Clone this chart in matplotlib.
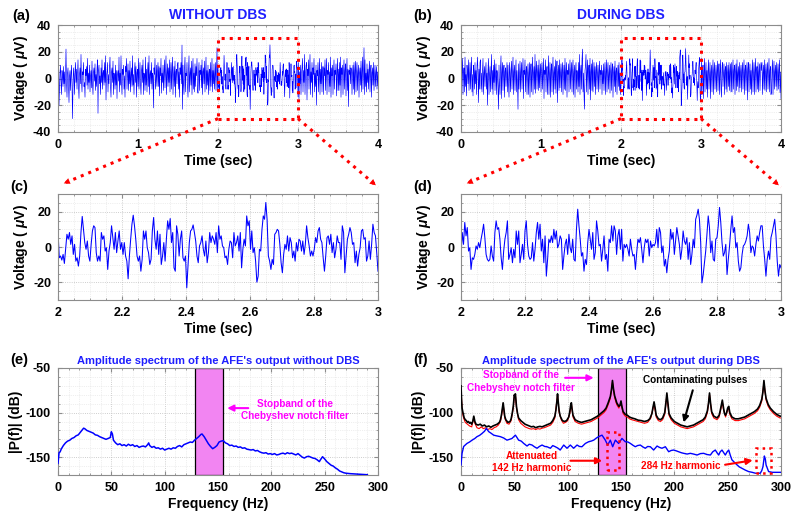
import numpy as np
import matplotlib
matplotlib.use('Agg')
import matplotlib.pyplot as plt
from matplotlib.ticker import MultipleLocator
from matplotlib.lines import Line2D
from matplotlib.patches import FancyArrowPatch, Rectangle

plt.rcParams['font.family'] = ['Liberation Sans', 'DejaVu Sans']
plt.rcParams['font.weight'] = 'bold'
plt.rcParams['axes.unicode_minus'] = False
plt.rcParams['mathtext.fontset'] = 'custom'
plt.rcParams['mathtext.it'] = 'Liberation Sans:italic'
plt.rcParams['mathtext.rm'] = 'Liberation Sans:bold'

# ---------------- DATA ----------------
# (a) without DBS, 0-2 s and 3-4 s (2-3 s is the zoomed segment c_vals)
a_left = [5, 25, -20, -8, 4, 10, -3, -12, 6, 2, -6, 9, -4, 5, -10, 3, 22, -2, -14, 4,
          8, -5, -18, 2, 6, -9, 3, 10, -4, -30, -6, 8, 2, -12, 5, 12, -3, 7, -8, 4,
          14, -6, -15, 3, 8, -4, 18, -2, -10, 5, 3, 12, -6, -3, -14, 7, 2, 9, -5, 15,
          -8, 4, -3, 10, -10, 2, 6, -7, 13, -4, -12, 5, 8, -2, 11, -9, 3, -6, 7, 14,
          -26, 6, 10, -4, 2, -12, 8, -3, 14, -8, 4, 6, -5, 12, -3, 17, -16, 2, 5, 12,
          -10, 3, -4, 9, 16, -6, -14, 5, 8, -3, 13, -12, 4, 2, -8, 10, -5, 6, -15, 3,
          6, -2, 16, -10, 4, -5, 17, -3, -12, 7, 3, 10, -8, 2, -14, 9, 5, 15, -8, 4,
          11, -9, 6, -4, 13, -10, 2, 8, -6, 17, -5, 3, -12, 6, 12, -3, 9, -14, 4, 7,
          -6, 15, -8, 3, 12, -4, -12, 6, 10, -3, 14, -12, 4, 2, -9, 16, -5, 7, -10, 5,
          12, -6, 17, -12, 3, 6, -4, 12, -8, 4, 2, -22, 8, 3, 15, -8, -2, 10, -6, 5,
          12, -6, 9, -13, 8, 2, 15, -11, 4, -3, 10, -9, 4, 14, -7, 5, 17, -12, 3, 11,
          -6, 8, -3, 14, -10, 4, 12, -8, 6, 16, -12, 2, 9, -6, 13, -14, 5, 7, -4, 10,
          12, -8, 5, -14, 8, 3, 12, -4, 25, -23, 10, -4, -12, 8, 16, -10, 4, 2, 12, -6,
          -14, 6, 17, -10, 3, 8, -5, 13, -12, 5, 15, -8, 4, -10, 11, -6, 9, 2, 15, -8,
          -11, 4, 12, -9, 6, 3, 10, -7, 14, -12, 5, 8, -4, 13, -10, 3, 16, -8, 6, -5,
          10, -12, 4, 7, -9, 12, -6, 3, 15, -10, 6, -4, 11, -8, 2, 12, -9, 5, 23, -10]
a_right = [12, -15, 5, -4, 10, -12, 4, 8, 15, -10, 6, -3, 18, -12, 3, 9, 12, -16, 7, 2,
           14, -8, 4, 18, -12, 5, -3, 12, -14, 8, 3, 15, -10, 4, -6, 10, -20, 6, 2, 12,
           -10, 3, 15, -12, 7, -4, 12, -10, 4, 9, -12, 8, 2, 14, -9, 5, 15, -12, 6, 3,
           12, -10, 5, -6, 16, -14, 8, 2, 10, -12, 5, 14, -8, 6, 3, 11, -13, 4, 15, -9,
           7, -9, 12, -5, 16, -14, 8, 3, 10, -12, 5, 14, -8, 6, 11, -13, 4, 15, -9, 7,
           -21, 6, 3, 10, -4, 8, 6, -12, 4, 10, -8, 12, -12, 6, 13, -10, 5, 12, -9, 4,
           10, -14, 4, 8, -5, 13, -10, 5, 16, -8, 3, 23, -12, 14, -6, 4, -10, 11, -3, 7,
           -8, 6, 13, -10, 5, 10, -14, 4, 8, -5, 12, -9, 3, 10, -6, 4, 9, -8, 5, -5]
# (c) zoomed 2-3 s without DBS
c_vals = [9.1, -6.1, -5.1, -7.4, -4.2, -9.3, -1.3, 7.2, 4.4, 8.2, 1.5, 6.3, -4.2, 1.5, -8, -6.1,
          -10.8, -5.1, 8.2, 17.3, 10, 2.5, -1.3, 3.4, -5.1, -8, 1.5, 9.1, 12, 11, -3.2, -8,
          -5.1, -8, 8.2, 4.4, 6.3, -2.3, -0.4, -12.7, -2.3, 2.5, 12, 5.3, -1.3, 8.2, -3.2, 3.4,
          9.1, -1.3, 2.5, -4.2, 2.5, -5.1, -8, -18, -5.1, 4.4, 12.9, 18, 12, 4.4, -5.1, -8,
          -5.1, -13.7, -7, 9.1, 4.4, 9.1, -0.4, -3.2, -9.9, -7, 9.1, 16.7, 4.4, -1.3, 9.1, -4.2,
          7.2, -9.9, -5.1, 2.5, -8, 4.4, 14.8, 10, 16.1, 2.5, 8.2, -11.8, -13.7, 12, 7.2, -5.1,
          4.4, 9.1, -6.1, -8, -5.1, -23.1, -10.8, 2.5, 9.1, 10, 12.5, 8.2, 3.4, -5.1, -8.9, 0.6,
          2.5, 6.3, -1.3, -5.1, 3.4, -8.9, -3.2, 8.2, 2.5, 6.3,
          4.4, 1.5, 8.2, -3.2, 12, 4.4, 6.3, 0.6, -0.4, -6.1, -5.1, -9.9, -1.3, 3.4, 2.5, -6.1,
          8.2, 0.6, 2.5, 6.3, -2.3, 8.2, -11.8, -1.3, 4.4, 0.6, 17.6, 12, 14.8, -1.3, 9.1, -3.2,
          -0.4, -8, -19.9, -16.5, -1.3, -2.3, 10, 17.6, 15.7, 25.2, 15.7, -5.1, -8, -12.7, -7, -9.9,
          7.2, 8.2, 10, 9.1, 1.5, -8.9, -14.6, -4.2, 1.5, -1.3, 6.3, -2.3, 5.3, 2.5, -6.1, -2.3,
          -8, 2.5, -2.3, 4.4, 3.4, -2.3, 3.4, -4.2, 1.5, 12, 5.3, 0.6, -5.1, -2.3, -5.1, -1.3,
          5.3, 2.5, 9.1, 11, 4.4, 2.5, -6.1, -13.7, -5.1, 5.3, 6.3, 1.5, 7.2, -3.2, 2.5, -6.1,
          -1.3, 6.3, 2.5, 2.5, -7, 12, 8.2, -14.6, -5.1, 4.4, 7.2, 11, 8.2, 1.5, 2.5, -8.9,
          -2.3, -10.8, -4.2, -0.4, 9.1, 10, 4.4, 5.3, -8, -5.1, 3.4, -7, 1.5, 12.9, 8.2, 6.3,
          -3.2, -13.7]
# (b) during DBS, 0-2 s and 3-4 s
b_left = [10, -15, 6, 15, -12, 4, 8, -10, 16, -6, 3, -13, 10, 5, -4, 14, -9, 2, 12, -8,
          6, 16, -10, 3, -13, 10, 5, -8, 12, -4, 6, -12, 9, 16, 4, -18, 7, -8, 12, 14,
          -8, 4, -10, 6, 15, -12, 3, 9, -6, 5, 12, -8, 4, -20, 6, 15, -12, 3, 9, -10,
          5, 18, -8, 6, -12, 10, -3, 14, -9, 4, 11, -12, 6, 2, -8, -23, 10, -5, -12, 8,
          17, -15, 4, 12, -9, 6, 10, -14, 5, 8, -6, 3, 12, -10, 10, -4, -14, 12, 4, -10,
          6, 13, -8, 4, 16, -12, 5, 10, -9, 3, 14, -10, 6, -4, -23, 11, -8, 2, 13, -10,
          5, 12, -8, 4, 15, -15, 6, 3, 14, -10, 5, 9, -12, 4, 11, -12, 3, 12, -14, 6,
          11, -10, 5, 16, -12, 4, 9, -8, 18, -11, 6, 13, -8, 5, 10, -9, 14, -7, 4, 11,
          -10, 6, 12, -8, 4, 15, -15, 6, 3, 14, -10, 5, 9, -12, 4, 17, -12, 3, 12, -14,
          6, 11, -10, 5, 16, -12, 4, 9, -8, 14, -11, 6, 13, -18, 5, 10, -9, 14, -7, 4,
          11, -10, 6, 12, -12, 4, 10, -8, 15, -9, 5, 12, -14, 6, 3, 11, -10, 4, 14, -8,
          5, 12, -10, 6, 14, -12, 4, 10, -14, 5, 12, -8, 6, 3, -10, 12, -6, 18, -12, 5,
          10, -8, 14, 22, -10, 4, -12, -23, 6, 10, 18, -10, 4, 14, -12, 6, 10, -8, 15, -16,
          5, 11, -9, 14, -10, 3, 12, -6, 9, -12, 6, 12, -8, 4, 10, -10, 5, 13, -8, 6,
          3, 10, -12, 6, -4, 11, -9, 5, 12, -12, 4, 14, -10, 6, 12, -8, 3, 10, -11, 5,
          12, -9, 6, 11, -14, 4, 9, -6, 13, -10, 5, 8, -12, 3, 10, -6, 12, -9, 4, -12]
b_right = [15, -12, 6, 10, -15, 5, 15, -10, 4, 12, -8, 6, -14, 6, 14, -8, 3, 12, -15, 5,
           10, -10, 4, 14, -12, 6, 12, -8, 3, 10, -10, 5, 13, -9, 6, 11, -12, 4, 14, -8,
           -14, 8, 12, -6, 4, 11, -12, 6, 9, -8, 12, -10, 4, 10, -6, 12, -9, 5, 11, -10,
           12, -10, 4, 14, -8, 6, 10, -12, 5, 11, -9, 14, -6, 4, 9, -10, 12, -7, 5, 10,
           -10, 6, 12, -8, 4, 14, -12, 6, 10, -9, 5, 12, -16, 7, 12, -10, 5, 11, -8, 6,
           -12, 6, 14, -10, 4, 12, -12, 5, 15, -10, 6, 9, -8, 12, -10, 5, 11, -9, 6, 12,
           6, 12, -12, 4, 10, -8, 14, -9, 5, 11, -10, 6, 12, -8, 4, 15, -10, 6, 9, -12,
           -10, 6, 14, -12, 4, 13, -8, 5, 10, -6, 12, -9, 4, 11, -8, 6, 14, -10, 5, -15]
# (d) zoomed 2-3 s during DBS
d_vals = [-5.1, 8.2, 1.5, 13.9, 6.3, 11, -2.3, -0.4, -12.7, -6.1, -7, -4.2, 0.6, -1.3, 2.5, -0.4,
          4.4, 8.2, 12.9, 5.3, -4.2, -7, -8, -7, 0.6, -5.1, -8, 8.2, 14.8, 10, 11, 4.4,
          -6.1, -12.7, -2.3, 4.4, 8.2, 14.8, -7, -4.2, -0.4, -8.9, -1.3, -6.1, 9.1, 1.5, 9.1, -8.9,
          -4.2, 1.5, -7, 9.1, 14.8, 1.5, -5.1, -7, -6.1, 2.5, -8, -1.3, 8.2, 13.9, 4.4, 12.9,
          -2.3, 4.4, -8.9, 6.3, -16.5, -7, 4.4, 2.5, 6.3, 2.5, 10, 4.4, 9.1, -0.4, 1.5, 6.3,
          4.4, -12.7, -5.1, 1.5, 4.4, -4.2, 7.2, -0.4, -3.2, 4.4, -7, -8, 10, 21.4, 12, 4.4,
          -5.1, -3.2, -13.7, -7, -9.9, 2.5, 10, 4.4, -1.3, 8.2, -7, -3.2, 14.8, 9.1, 0.6, 1.5,
          -8, -1.3, 6.3, -7, -4.2, -13.7, 4.4, 2.5, 12, 3.4, 12, 9.1, -4.2, 6.3, 10, -1.3,
          10, -8, 1.5, -0.4, 1.5, -1.3, -5.1, 4.4, -1.3, -5.1, -4.2, -12.7, -3.2, 4.4, 2.5, 5.3,
          -1.3, -8.9, -0.4, 4.4, 2.5, 4.4, -5.1, 3.4, -0.4, 1.5, 0.6, 2.5, 10, -0.4, 11, 8.2,
          -3.2, 0.6, -10.8, -7, -14.6, -7, -2.3, 10, 4.4, 8.2, -4.2, 3.4, 11, 6.3, 1.5, -7,
          -1.3, 9.1, 3.4, 1.5, 5.3, -7, 2.5, -9.9, -4.2, 4.4, -0.4, 15.7, 18, 21.4, 15.7, 2.5,
          -20.3, -15.6, -8.9, -2.3, 7.2, 17.6, 11, -3.2, 3.4, -7, -8, 4.4, 5.3, 12, 22.4, 13.9,
          2.5, -5.1, -3.2, 1.5, -15.6, -7, 0.6, 10, 17.6, 8.2, 11, -0.4, 2.5, -8, -13.7, -11.8,
          -4.2, 0.6, 1.5, 3.4, 6.3, 12.9, 8.2, -3.2, 0.6, -0.4, -5.1, 1.5, 6.3, 3.4, 8.2, 12,
          12, 0.6, -7, -16.5, -7, -2.3, -7, 5.3, 8.2, 12, 15.7, 6.3, -8, -16.5, -9.9, -11.8]

# (e) amplitude spectrum without DBS
e_freq = [0, 1, 2, 3, 5, 7, 9, 11, 13, 15, 17, 19, 21, 23, 24, 25, 27, 29, 31, 33,
          35, 37, 39, 41, 43, 45, 47, 49, 50, 51, 52, 54, 56, 58, 60, 62, 64, 66, 68, 70,
          72, 74, 76, 78, 80, 82, 84, 85, 86, 88, 90, 92, 94, 96, 98, 100, 102, 104, 106, 108,
          110, 112, 114, 116, 118, 120, 122, 124, 126, 128, 130, 132, 134, 135, 137, 139, 141, 143, 145, 147,
          149, 151, 153, 155, 157, 159, 161, 163, 165, 167, 169, 171, 173, 175, 177, 179, 181, 183, 185, 187,
          189, 191, 193, 195, 197, 199, 201, 203, 205, 207, 209, 211, 213, 215, 217, 219, 221, 223, 225, 227,
          229, 231, 233, 235, 237, 239, 241, 243, 245, 246, 248, 250, 252, 254, 256, 258, 260, 262, 264, 266,
          268, 270, 274, 278, 282, 286, 290]
e_db = [-157, -145, -144, -141, -137, -134, -132, -131, -129, -128, -126, -125, -122, -119, -117.5, -118, -120, -121, -122, -123,
        -125, -125.5, -127, -128, -129, -130, -129, -128, -121.5, -124, -131, -134, -136, -135, -137, -136, -137.5, -135.5, -137, -136,
        -138, -137, -139, -138, -137.5, -138.5, -136, -134, -137, -139, -138, -140, -139.5, -141, -140, -142, -141, -140, -141, -139.5,
        -140, -138, -137, -138.5, -136, -135, -134, -133, -133.5, -131, -129, -127, -124.5, -124, -127, -131, -135, -138, -140.5, -139,
        -137, -133, -132, -131.5, -134, -135, -137, -136.5, -138, -137.5, -139, -138.5, -140, -139.5, -141, -141.5, -142, -141.5, -143, -142.5,
        -144, -145, -145.5, -145, -146.5, -146, -147, -146, -147.5, -147, -146, -145.5, -146.5, -145, -146, -145.5, -146.5, -147.5, -146, -148,
        -150, -151, -149.5, -149, -150, -151, -151.5, -153, -155, -153, -149.5, -152, -155, -157, -159, -160, -162, -163.5, -165.5, -166.5,
        -167.5, -168, -168.5, -168.8, -169, -169.3, -169.7]

# (f) amplitude spectra during DBS: contaminated (black), reference (red), AFE output (blue)
f_freq = [0, 0.5, 1, 2, 3, 4, 5, 6, 7, 8, 9, 10, 11, 12, 13, 14, 16, 18, 20, 22,
          24, 26, 28, 30, 32, 34, 36, 37, 38, 39, 39.5, 40, 41, 42, 44, 46, 47, 48, 49, 50,
          50.5, 51, 52, 53, 54, 56, 58, 60, 62, 64, 66, 68, 70, 72, 74, 76, 78, 80, 82, 84,
          86, 88, 89, 90, 90.5, 91, 92, 93, 95, 97, 99, 101, 102, 103, 103.5, 104, 105, 107, 110, 113,
          116, 119, 122, 125, 128, 131, 134, 136, 138, 140, 141, 142, 143, 144, 146, 148, 149, 150, 151, 152,
          154, 156, 158, 160, 163, 166, 169, 172, 175, 177, 179, 180, 181, 182, 183, 185, 187, 189, 191, 192,
          193, 194, 195, 197, 200, 203, 206, 209, 212, 215, 218, 221, 224, 227, 229, 231, 232, 233, 234, 235,
          237, 240, 242, 243, 244, 245, 246, 247, 248, 249, 250, 251, 252, 254, 257, 260, 263, 266, 269, 272,
          275, 278, 280, 282, 283, 284, 285, 286, 288, 290, 293, 296, 299, 300]
f_black = [-70, -85, -95, -101, -106, -108, -109, -111, -110, -112, -111, -113, -110, -104, -110, -113, -114, -113, -115, -114,
           -116, -115, -116.5, -115, -114, -113, -111, -108, -102, -93, -89, -94, -104, -108, -111, -110, -107, -101, -93, -80,
           -82, -79, -93, -101, -106, -109, -111, -113, -114, -115, -116, -115.5, -117, -116, -115.5, -116, -115, -114, -113, -112,
           -109, -104, -97, -86, -79, -86, -98, -104, -109, -110, -109, -105, -99, -90, -89, -95, -103, -108, -110, -111,
           -110, -109, -108, -106, -104, -101, -98, -95, -89, -82, -75, -64, -74, -81, -89, -93, -92, -87, -94, -99,
           -102, -103, -105, -106, -107, -108.5, -109, -110, -109, -107, -101, -94, -88, -95, -103, -107, -108, -106, -100, -90,
           -78, -90, -101, -106, -110, -112, -114, -115, -116, -115, -114, -112, -110, -108, -105, -98, -90, -78, -90, -99,
           -104, -106, -103, -98, -92, -86, -94, -101, -103, -100, -95, -93, -100, -105, -107, -107, -106, -105, -103, -101,
           -99, -96, -92, -85, -77, -64, -76, -84, -91, -95, -99, -102, -104, -104]
r_freq = [0, 1, 2, 3, 4, 6, 8, 10, 12, 13, 15, 17, 19, 21, 23, 25, 27, 29, 31, 33,
          35, 37, 38, 39.5, 41, 43, 45, 47, 49, 50, 50.5, 51, 52, 54, 56, 58, 60, 62, 64, 66,
          68, 70, 72, 74, 76, 78, 80, 82, 84, 86, 88, 90.5, 92, 94, 96, 98, 100, 102, 103.5, 105,
          107, 110, 113, 116, 119, 122, 125, 128, 131, 134, 136, 138, 140, 142, 144, 146, 148, 150, 152, 154,
          156, 158, 160, 163, 166, 169, 172, 175, 178, 181, 183, 185, 187, 189, 191, 193, 195, 197, 200, 203,
          206, 209, 212, 215, 218, 221, 224, 227, 229, 231, 233, 235, 237, 240, 242, 244, 245, 246, 248, 250,
          251, 252, 254, 257, 260, 263, 266, 269, 272, 275, 278, 280, 282, 284, 286, 288, 290, 293, 296, 299, 300]
r_db = [-72, -97, -104, -108, -111, -113, -115, -116, -106, -112, -117, -118, -116, -118, -117, -119, -118, -119, -117, -116,
        -114, -110, -104, -90, -106, -112, -113, -109, -95, -81, -83, -80, -95, -108, -112, -114, -116, -117, -118, -118.5,
        -118, -119, -118, -118.5, -117.5, -117, -116, -115, -114, -111, -106, -80, -100, -108, -112, -111, -109, -101, -90, -105,
        -110, -112, -113, -112, -111, -110, -108, -106, -103, -100, -97, -91, -84, -66, -83, -91, -95, -89, -101, -104,
        -105, -107, -108, -109, -110, -111, -112, -111, -106, -90, -105, -109, -110, -108, -102, -80, -103, -108, -112, -114,
        -116, -117, -118, -117, -116, -114, -112, -110, -107, -100, -80, -101, -106, -108, -105, -94, -88, -96, -105, -97,
        -95, -102, -107, -109, -109, -108, -107, -105, -103, -101, -98, -94, -87, -66, -86, -93, -97, -101, -104, -106, -106]
fb_freq = [0, 1, 2.5, 5.6, 8, 10.3, 13, 15, 17.5, 19.7, 22, 23.8, 26, 28, 30.6, 33, 36.9, 40, 43.1, 45.5,
           47.8, 49.5, 51, 52.5, 54, 56.5, 58.8, 61.9, 64, 66.6, 69, 71.3, 73.5, 76, 78.5, 80.6, 83.8, 86, 88.4, 91,
           93, 96.3, 99.4, 102.5, 105.6, 108.8, 111, 113.4, 116.6, 119.7, 122, 124.4, 127, 129, 132.2, 135.3, 137.5, 140, 142.2, 144.7,
           147.8, 150.9, 154, 156.5, 158.8, 161, 163.4, 165.5, 168.1, 170.5, 172.8, 175, 177.5, 180.6, 183.8, 186, 188.4, 191.6, 194.7, 197,
           199.4, 202, 204, 206.5, 208.8, 212, 215, 218, 221.3, 224.5, 227.5, 230.5, 233.8, 236, 238.4, 240, 241.6, 243, 244.7, 246.3,
           247.8, 249.5, 251, 252.5, 254, 256.5, 258.8, 261, 263.4, 266.5, 269.7, 273, 276, 278, 280.6, 282, 283.1, 284.4, 285.3, 286,
           288.4, 292, 296, 300]
fb_db = [-158.7, -145.7, -138, -134.6, -133, -131, -129, -127, -125.5, -123.4, -121, -117.8, -121.4, -123, -125.3, -126, -127, -128.5, -130.9, -130,
         -129, -127, -125.3, -128, -130.9, -132, -134.6, -137.5, -135.5, -136.4, -138.5, -140, -138, -136.4, -138, -138.3, -140, -137, -138.3, -140,
         -142, -136.4, -140, -136.4, -140, -136.4, -138, -138.3, -134.6, -132.7, -132, -130.9, -128.5, -127, -125.3, -130.9, -136.4, -130.9, -138.3, -130.9,
         -134.6, -129, -132.7, -133, -134.6, -136.5, -138.3, -137, -136.4, -138.5, -140, -138, -138.3, -142, -137.5, -139, -140, -138.3, -143.9, -142.5,
         -142, -143, -143.9, -145, -145.7, -146.5, -145.7, -146.5, -147.6, -146, -145.7, -147, -147.6, -144, -142, -145, -147.6, -144, -142, -145,
         -147.6, -144, -142, -148, -153, -156, -158.7, -161, -162.5, -164.5, -166.2, -167, -168, -168, -168, -165, -160.6, -148.7, -152, -158.7,
         -166.2, -167, -167, -167]

stopband = (128, 155)
# ---------------------------------------

fig = plt.figure(figsize=(8, 5.25), dpi=100)
W, H = 800.0, 525.0
BLUE = '#0000ff'
TITLE_BLUE = '#1f1fff'
RED = '#ff0000'
MAG = '#ff00ff'


def add_ax(l, t, r, b):
    return fig.add_axes([l / W, 1 - b / H, (r - l) / W, (b - t) / H])


def style(ax, xmaj, xmin, ymaj, ymin):
    ax.xaxis.set_major_locator(MultipleLocator(xmaj))
    ax.xaxis.set_minor_locator(MultipleLocator(xmin))
    ax.yaxis.set_major_locator(MultipleLocator(ymaj))
    ax.yaxis.set_minor_locator(MultipleLocator(ymin))
    ax.grid(True, which='major', linestyle=':', color='#bdbdbd', linewidth=0.6)
    ax.grid(True, which='minor', linestyle=':', color='#e0e0e0', linewidth=0.5)
    ax.set_axisbelow(True)
    for s in ax.spines.values():
        s.set_color('#8c8c8c')
        s.set_linewidth(0.8)
    ax.tick_params(which='both', direction='in', colors='#8c8c8c', labelcolor='black',
                   labelsize=9, top=True, right=True, pad=5)
    ax.tick_params(which='major', length=3)
    ax.tick_params(which='minor', length=1.5)
    for lab in ax.get_xticklabels() + ax.get_yticklabels():
        lab.set_fontweight('bold')


VLAB = r'Voltage ( $\mu$V)'

# ---- (a) and (b) full traces ----
axes_top = []
for (l, r, left, mid, right, title) in [(58, 378, a_left, c_vals, a_right, 'WITHOUT DBS'),
                                         (461, 781, b_left, d_vals, b_right, 'DURING DBS')]:
    ax = add_ax(l, 25, r, 132)
    t_left = np.linspace(0, 2, len(left), endpoint=False)
    t_mid = np.linspace(2, 3, len(mid))
    t_right = np.linspace(3, 4, len(right) + 1)[1:]
    t = np.concatenate([t_left, t_mid, t_right])
    v = np.concatenate([left, mid, right])
    ax.plot(t, v, color=BLUE, lw=0.45)
    ax.set_xlim(0, 4)
    ax.set_ylim(-40, 40)
    style(ax, 1, 0.2, 20, 5)
    ax.add_patch(Rectangle((2, -30), 1, 60, fill=False, edgecolor=RED, lw=2.2, linestyle=':', zorder=5))
    ax.set_xlabel('Time (sec)', fontsize=10, fontweight='bold', labelpad=2)
    ax.set_ylabel(VLAB, fontsize=10, fontweight='bold', labelpad=2)
    ax.set_title(title, color=TITLE_BLUE, fontsize=10, fontweight='bold', pad=4)
    axes_top.append(ax)

# ---- (c) and (d) zoomed traces ----
axes_mid = []
for (l, r, vals) in [(58, 378, c_vals), (461, 781, d_vals)]:
    ax = add_ax(l, 194, r, 300)
    t = np.linspace(2, 3, len(vals))
    ax.plot(t, vals, color=BLUE, lw=0.75)
    ax.set_xlim(2, 3)
    ax.set_ylim(-30, 30)
    style(ax, 0.2, 0.05, 20, 5)
    ax.set_yticks([-20, 0, 20])
    ax.set_xticks([2, 2.2, 2.4, 2.6, 2.8, 3])
    ax.set_xticklabels(['2', '2.2', '2.4', '2.6', '2.8', '3'])
    ax.set_xlabel('Time (sec)', fontsize=10, fontweight='bold', labelpad=2)
    ax.set_ylabel(VLAB, fontsize=10, fontweight='bold', labelpad=2)
    axes_mid.append(ax)

# ---- zoom connectors ----
def to_fig(ax, xy, coords='data'):
    tr = ax.transData if coords == 'data' else ax.transAxes
    p = tr.transform(xy)
    return fig.transFigure.inverted().transform(p)

fig.canvas.draw()
for axt, axm in zip(axes_top, axes_mid):
    for (xd, axpt) in [(2, (0.01, 1.09)), (3, (1.0, 1.065))]:
        p0 = to_fig(axt, (xd, -30))
        p1 = to_fig(axm, axpt, 'axes')
        fig.add_artist(Line2D([p0[0], p1[0]], [p0[1], p1[1]], transform=fig.transFigure,
                              color=RED, lw=2.2, linestyle=':'))
        d = np.array(p1) - np.array(p0)
        pa = np.array(p1) - d * 0.08
        fig.add_artist(FancyArrowPatch(pa, p1, transform=fig.transFigure, arrowstyle='-|>',
                                       mutation_scale=11, color=RED, lw=0))

# ---- (e) spectrum without DBS ----
axe = add_ax(58, 368, 378, 475)
axe.axvspan(stopband[0], stopband[1], facecolor='#f285f2', edgecolor='black', lw=0.9, alpha=1.0, zorder=1)
axe.plot(e_freq, e_db, color=BLUE, lw=1.1, zorder=3)
axe.set_xlim(0, 300)
axe.set_ylim(-170, -50)
style(axe, 50, 10, 50, 10)
axe.set_xlabel('Frequency (Hz)', fontsize=10, fontweight='bold', labelpad=2)
axe.set_ylabel('|P(f)| (dB)', fontsize=10, fontweight='bold', labelpad=2)
axe.set_title("Amplitude spectrum of the AFE's output without DBS", color=TITLE_BLUE,
              fontsize=8, fontweight='bold', pad=3)
axe.annotate('', xy=(156, -95), xytext=(181, -95),
             arrowprops=dict(arrowstyle='-|>', color=MAG, lw=1.5, mutation_scale=9))
axe.text(222, -97, 'Stopband of the\nChebyshev notch filter', color=MAG, fontsize=7.2,
         fontweight='bold', ha='center', va='center', linespacing=1.3)

# ---- (f) spectrum during DBS ----
axf = add_ax(461, 368, 781, 475)
axf.axvspan(stopband[0], stopband[1], facecolor='#f285f2', edgecolor='black', lw=0.9, alpha=1.0, zorder=1)
axf.plot(r_freq, r_db, color=RED, lw=0.8, zorder=2)
axf.plot(f_freq, f_black, color='black', lw=1.2, zorder=3)
axf.plot(fb_freq, fb_db, color=BLUE, lw=1.0, zorder=3)
axf.set_xlim(0, 300)
axf.set_ylim(-170, -50)
style(axf, 50, 10, 50, 10)
axf.set_xlabel('Frequency (Hz)', fontsize=10, fontweight='bold', labelpad=2)
axf.set_ylabel('|P(f)| (dB)', fontsize=10, fontweight='bold', labelpad=2)
axf.set_title("Amplitude spectrum of the AFE's output during DBS", color=TITLE_BLUE,
              fontsize=8, fontweight='bold', pad=3)
axf.text(56, -65, 'Stopband of the\nChebyshev notch filter', color=MAG, fontsize=7.2,
         fontweight='bold', ha='center', va='center', linespacing=1.3)
axf.annotate('', xy=(127, -61), xytext=(95, -61),
             arrowprops=dict(arrowstyle='-|>', color=MAG, lw=1.5, mutation_scale=9))
axf.text(220, -64, 'Contaminating pulses', color='black', fontsize=7.2, fontweight='bold',
         ha='center', va='center')
axf.annotate('', xy=(208, -114), xytext=(218, -72),
             arrowprops=dict(arrowstyle='-|>', color='black', lw=1.5, mutation_scale=9))
axf.add_patch(Rectangle((137, -164.5), 11, 43, fill=False, edgecolor=RED, lw=1.8, linestyle=':', zorder=5))
axf.add_patch(Rectangle((277, -168), 13.5, 28, fill=False, edgecolor=RED, lw=1.8, linestyle=':', zorder=5))
axf.text(66, -155.5, 'Attenuated\n142 Hz harmonic', color=RED, fontsize=7.2, fontweight='bold',
         ha='center', va='center', linespacing=1.3)
axf.annotate('', xy=(135, -154), xytext=(100, -154),
             arrowprops=dict(arrowstyle='-|>', color=RED, lw=1.5, mutation_scale=9))
axf.text(206, -160, '284 Hz harmonic', color=RED, fontsize=7.2, fontweight='bold',
         ha='center', va='center')
axf.annotate('', xy=(276, -153), xytext=(245, -159),
             arrowprops=dict(arrowstyle='-|>', color=RED, lw=1.5, mutation_scale=9))

# ---- panel labels ----
for lab, x, y in [('(a)', 12, 16), ('(b)', 413, 16), ('(c)', 10, 187), ('(d)', 413, 187),
                  ('(e)', 10, 360), ('(f)', 413, 360)]:
    fig.text(x / W, 1 - y / H, lab, fontsize=10.5, fontweight='bold', ha='left', va='center')

fig.savefig('out.png', dpi=100)
